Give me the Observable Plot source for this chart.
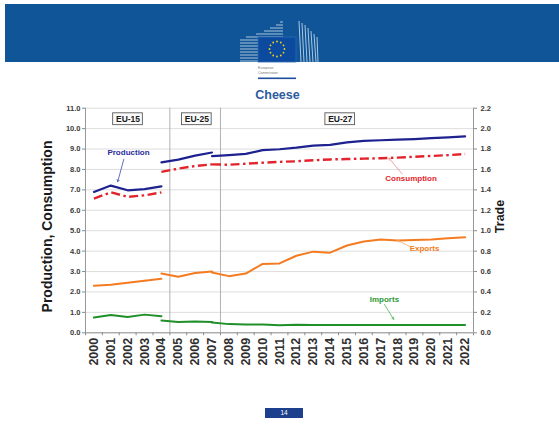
<!DOCTYPE html>
<html>
<head>
<meta charset="utf-8">
<script src="https://cdn.jsdelivr.net/npm/d3@7"></script>
<script src="https://cdn.jsdelivr.net/npm/@observablehq/plot@0.6"></script>
<style>
  html, body { margin: 0; padding: 0; background: #fff; width: 559px; height: 433px; overflow: hidden; position: relative; font-family: "Liberation Sans", Arial, sans-serif; }
  #banner { position: absolute; left: 5px; top: 4px; width: 554px; height: 58px; background: #0f5597; }
  #logo { position: absolute; left: 0; top: 0; }
  #title { position: absolute; left: 0; width: 559px; top: 88px; text-align: center; font-size: 12.5px; font-weight: bold; color: #2b5c9e; }
  #title span { position: relative; left: -2px; }
  #chart { position: absolute; left: 0; top: 100px; }
  #page { position: absolute; left: 265px; top: 408px; width: 38px; height: 10px; background: #1c3f8e; color: #fff; font-size: 6.5px; text-align: center; line-height: 10px; }
</style>
</head>
<body>
<div id="banner"></div>
<svg id="logo" width="559" height="90" xmlns="http://www.w3.org/2000/svg">
  <g stroke="#dfe9f5" stroke-width="0.9" opacity="0.85">
    <line x1="240" y1="40" x2="283" y2="40"/>
    <line x1="240" y1="43" x2="283" y2="43"/>
    <line x1="240" y1="46" x2="283" y2="46"/>
    <line x1="240" y1="49" x2="283" y2="49"/>
    <line x1="240" y1="52" x2="283" y2="52"/>
    <line x1="240" y1="55" x2="283" y2="55"/>
    <line x1="240" y1="58" x2="283" y2="58"/>
    <line x1="240" y1="61" x2="283" y2="61"/>
    <line x1="246" y1="37" x2="283" y2="37"/>
    <line x1="256" y1="34" x2="283" y2="34"/>
    <line x1="264" y1="31" x2="283" y2="31"/>
    <line x1="270" y1="28" x2="283" y2="28"/>
    <line x1="276" y1="25" x2="283" y2="25"/>
    <line x1="280" y1="22" x2="283" y2="22"/>
    <line x1="299" y1="21" x2="301" y2="62"/>
    <line x1="302" y1="23" x2="304" y2="62"/>
    <line x1="305" y1="25" x2="307" y2="62"/>
    <line x1="308" y1="28" x2="310" y2="62"/>
    <line x1="311" y1="31" x2="313" y2="62"/>
    <line x1="314" y1="34" x2="316" y2="62"/>
    <line x1="317" y1="37" x2="318" y2="62"/>
  </g>
  <rect x="258" y="37" width="38" height="25" fill="#0b4a9e" stroke="#2e69b3" stroke-width="0.8"/>
  <g fill="#f2d31b">
    <circle cx="277" cy="41.5" r="0.9"/><circle cx="280.8" cy="42.5" r="0.9"/><circle cx="283.5" cy="45.3" r="0.9"/>
    <circle cx="284.5" cy="49" r="0.9"/><circle cx="283.5" cy="52.7" r="0.9"/><circle cx="280.8" cy="55.5" r="0.9"/>
    <circle cx="277" cy="56.5" r="0.9"/><circle cx="273.2" cy="55.5" r="0.9"/><circle cx="270.5" cy="52.7" r="0.9"/>
    <circle cx="269.5" cy="49" r="0.9"/><circle cx="270.5" cy="45.3" r="0.9"/><circle cx="273.2" cy="42.5" r="0.9"/>
  </g>
  <text x="258" y="69" font-size="3.6" fill="#777" font-family="Liberation Sans, Arial, sans-serif">European</text>
  <text x="258" y="74" font-size="3.6" fill="#777" font-family="Liberation Sans, Arial, sans-serif">Commission</text>
  <rect x="258" y="77.5" width="38" height="1.6" fill="#1d4f9c"/>
</svg>
<div id="title"><span>Cheese</span></div>
<div id="chart"></div>
<div id="page">14</div>
<script>
// ---- Data: production/consumption on the left axis, trade on the right axis ----
const tickYears = [2000, 2001, 2002, 2003, 2004, 2005, 2006, 2007, 2008, 2009, 2010, 2011,
                   2012, 2013, 2014, 2015, 2016, 2017, 2018, 2019, 2020, 2021, 2022];
const leftTicks = [0, 1, 2, 3, 4, 5, 6, 7, 8, 9, 10, 11];
const tradeTicks = [0.0, 0.2, 0.4, 0.6, 0.8, 1.0, 1.2, 1.4, 1.6, 1.8, 2.0, 2.2];
const separators = [2004.5, 2007.5];

const yearsEU15 = [2000, 2001, 2002, 2003, 2004];
const yearsEU25 = [2004, 2005, 2006, 2007];
const yearsEU27 = [2007, 2008, 2009, 2010, 2011, 2012, 2013, 2014, 2015, 2016, 2017, 2018, 2019, 2020, 2021, 2022];

const productionEU15 = [6.90, 7.21, 6.98, 7.04, 7.17];
const productionEU25 = [8.35, 8.48, 8.68, 8.83];
const productionEU27 = [8.65, 8.70, 8.76, 8.95, 8.99, 9.07, 9.17, 9.20, 9.33, 9.40, 9.43, 9.46, 9.49, 9.53, 9.57, 9.62];

const consumptionEU15 = [6.57, 6.88, 6.66, 6.73, 6.88];
const consumptionEU25 = [7.88, 8.04, 8.17, 8.25];
const consumptionEU27 = [8.25, 8.23, 8.28, 8.33, 8.37, 8.40, 8.45, 8.49, 8.51, 8.53, 8.55, 8.58, 8.62, 8.66, 8.70, 8.76];

const exportsEU15 = [0.46, 0.47, 0.49, 0.51, 0.53];
const exportsEU25 = [0.58, 0.55, 0.585, 0.60];
const exportsEU27 = [0.59, 0.555, 0.58, 0.675, 0.68, 0.755, 0.795, 0.785, 0.855, 0.895, 0.915, 0.905, 0.91, 0.915, 0.925, 0.935];

const importsEU15 = [0.15, 0.175, 0.155, 0.178, 0.163];
const importsEU25 = [0.12, 0.105, 0.11, 0.105];
const importsEU27 = [0.10, 0.085, 0.082, 0.082, 0.075, 0.08, 0.076, 0.076, 0.076, 0.076, 0.076, 0.077, 0.077, 0.077, 0.077, 0.077];

const euGroups = [
  {label: "EU-15", x: 2002.02, y: 10.46},
  {label: "EU-25", x: 2006.1, y: 10.46},
  {label: "EU-27", x: 2014.6, y: 10.46}
];

// annotation labels with pointer lines (data coordinates on the left axis)
const annotations = [
  {label: "Production",  tx: 2002.05, ty: 8.82, x1: 2001.77, y1: 8.50, x2: 2001.41, y2: 7.40, text: "#2a2c9c", line: "#3a4cb0"},
  {label: "Consumption", tx: 2018.8,  ty: 7.57, x1: 2018.27, y1: 7.78, x2: 2017.48, y2: 8.56, text: "#e2262c", line: "#f08a8a"},
  {label: "Exports",     tx: 2019.6,  ty: 4.13, x1: 2018.72, y1: 4.23, x2: 2017.98, y2: 4.53, text: "#f47b20", line: "#f7a868"},
  {label: "Imports",     tx: 2017.22, ty: 1.63, x1: 2017.22, y1: 1.39, x2: 2017.77, y2: 0.66, text: "#2b9a34", line: "#55b45c"}
];

const tradeScale = 11 / 2.2; // right axis (trade) mapped onto left axis range

function seg(series, group, years, values, factor = 1) {
  return years.map((year, i) => ({series, group, year, value: values[i] * factor}));
}
const rows = [
  ...seg("Production", "EU-15", yearsEU15, productionEU15),
  ...seg("Production", "EU-25", yearsEU25, productionEU25),
  ...seg("Production", "EU-27", yearsEU27, productionEU27),
  ...seg("Consumption", "EU-15", yearsEU15, consumptionEU15),
  ...seg("Consumption", "EU-25", yearsEU25, consumptionEU25),
  ...seg("Consumption", "EU-27", yearsEU27, consumptionEU27),
  ...seg("Exports", "EU-15", yearsEU15, exportsEU15, tradeScale),
  ...seg("Exports", "EU-25", yearsEU25, exportsEU25, tradeScale),
  ...seg("Exports", "EU-27", yearsEU27, exportsEU27, tradeScale),
  ...seg("Imports", "EU-15", yearsEU15, importsEU15, tradeScale),
  ...seg("Imports", "EU-25", yearsEU25, importsEU25, tradeScale),
  ...seg("Imports", "EU-27", yearsEU27, importsEU27, tradeScale)
];
const bySeries = s => rows.filter(d => d.series === s);

const xDomain = [tickYears[0] - 0.5, tickYears[tickYears.length - 1] + 0.5];
const boundaries = d3.range(xDomain[0], xDomain[1] + 0.01, 1);
const font = "'Liberation Sans', Arial, sans-serif";

const chart = Plot.plot({
  width: 559,
  height: 285,
  marginLeft: 85,
  marginRight: 86,
  marginTop: 7.7,
  marginBottom: 52.7,
  x: {domain: xDomain},
  y: {domain: [0, 11]},
  color: {type: "identity"},
  style: {fontFamily: font, background: "transparent", overflow: "visible"},
  marks: [
    Plot.gridY(leftTicks, {stroke: "#d6d6d6", strokeOpacity: 1, strokeWidth: 0.8}),
    Plot.ruleX(separators, {y1: 0, y2: 11, stroke: "#a8a8a8", strokeWidth: 0.9}),
    Plot.ruleX(xDomain, {y1: 0, y2: 11, stroke: "#8c8c8c", strokeWidth: 0.9}),
    Plot.ruleY([0], {stroke: "#8c8c8c", strokeWidth: 0.9}),
    Plot.axisY(leftTicks, {anchor: "left", tickFormat: d => d.toFixed(1), tickSize: 3, tickPadding: 2,
      fontSize: 7.5, fontWeight: "bold", fill: "#3a3a3a", stroke: "#8c8c8c", label: null}),
    Plot.axisY(tradeTicks.map(t => t * tradeScale), {anchor: "right", tickFormat: d => (d / tradeScale).toFixed(1),
      tickSize: 3, tickPadding: 4, fontSize: 7.5, fontWeight: "bold", fill: "#3a3a3a", stroke: "#8c8c8c", label: null}),
    Plot.axisX(boundaries, {anchor: "bottom", tickFormat: () => "", tickSize: 3, stroke: "#8c8c8c", label: null}),
    Plot.axisX(tickYears, {anchor: "bottom", tickFormat: d => String(d), tickSize: 0, tickPadding: 5, tickRotate: -90,
      fontSize: 12.5, fontWeight: "bold", fill: "#2e2e2e", label: null}),
    Plot.text(["Production, Consumption"], {frameAnchor: "left", textAnchor: "middle", rotate: -90, dx: -38, dy: 6,
      fontSize: 14, fontWeight: "bold", fill: "#1a1a1a"}),
    Plot.text(["Trade"], {frameAnchor: "right", textAnchor: "middle", rotate: -90, dx: 26, dy: -4,
      fontSize: 12.5, fontWeight: "bold", fill: "#1a1a1a"}),
    Plot.rect(euGroups, {x1: d => d.x - 0.88, x2: d => d.x + 0.88, y1: d => d.y - 0.29, y2: d => d.y + 0.29,
      fill: "#fafafa", stroke: "#5a5a5a", strokeWidth: 0.9}),
    Plot.text(euGroups, {x: "x", y: "y", text: "label", fontSize: 8.5, fontWeight: "bold", fill: "#1a1a1a"}),
    Plot.line(bySeries("Exports"), {x: "year", y: "value", z: "group", stroke: "#f47b20", strokeWidth: 2}),
    Plot.line(bySeries("Imports"), {x: "year", y: "value", z: "group", stroke: "#1f8f2a", strokeWidth: 2}),
    Plot.line(bySeries("Consumption"), {x: "year", y: "value", z: "group", stroke: "#e3232b", strokeWidth: 2.4,
      strokeDasharray: "9,3.5,2.5,3.5", strokeLinecap: "butt"}),
    Plot.line(bySeries("Production"), {x: "year", y: "value", z: "group", stroke: "#1e2290", strokeWidth: 2.2}),
    Plot.arrow(annotations, {x1: "x1", y1: "y1", x2: "x2", y2: "y2", stroke: "line", strokeWidth: 0.8, headLength: 4}),
    Plot.text(annotations, {x: "tx", y: "ty", text: "label", fill: "text", fontSize: 8, fontWeight: "bold"})
  ]
});
document.getElementById("chart").appendChild(chart);
</script>
</body>
</html>
